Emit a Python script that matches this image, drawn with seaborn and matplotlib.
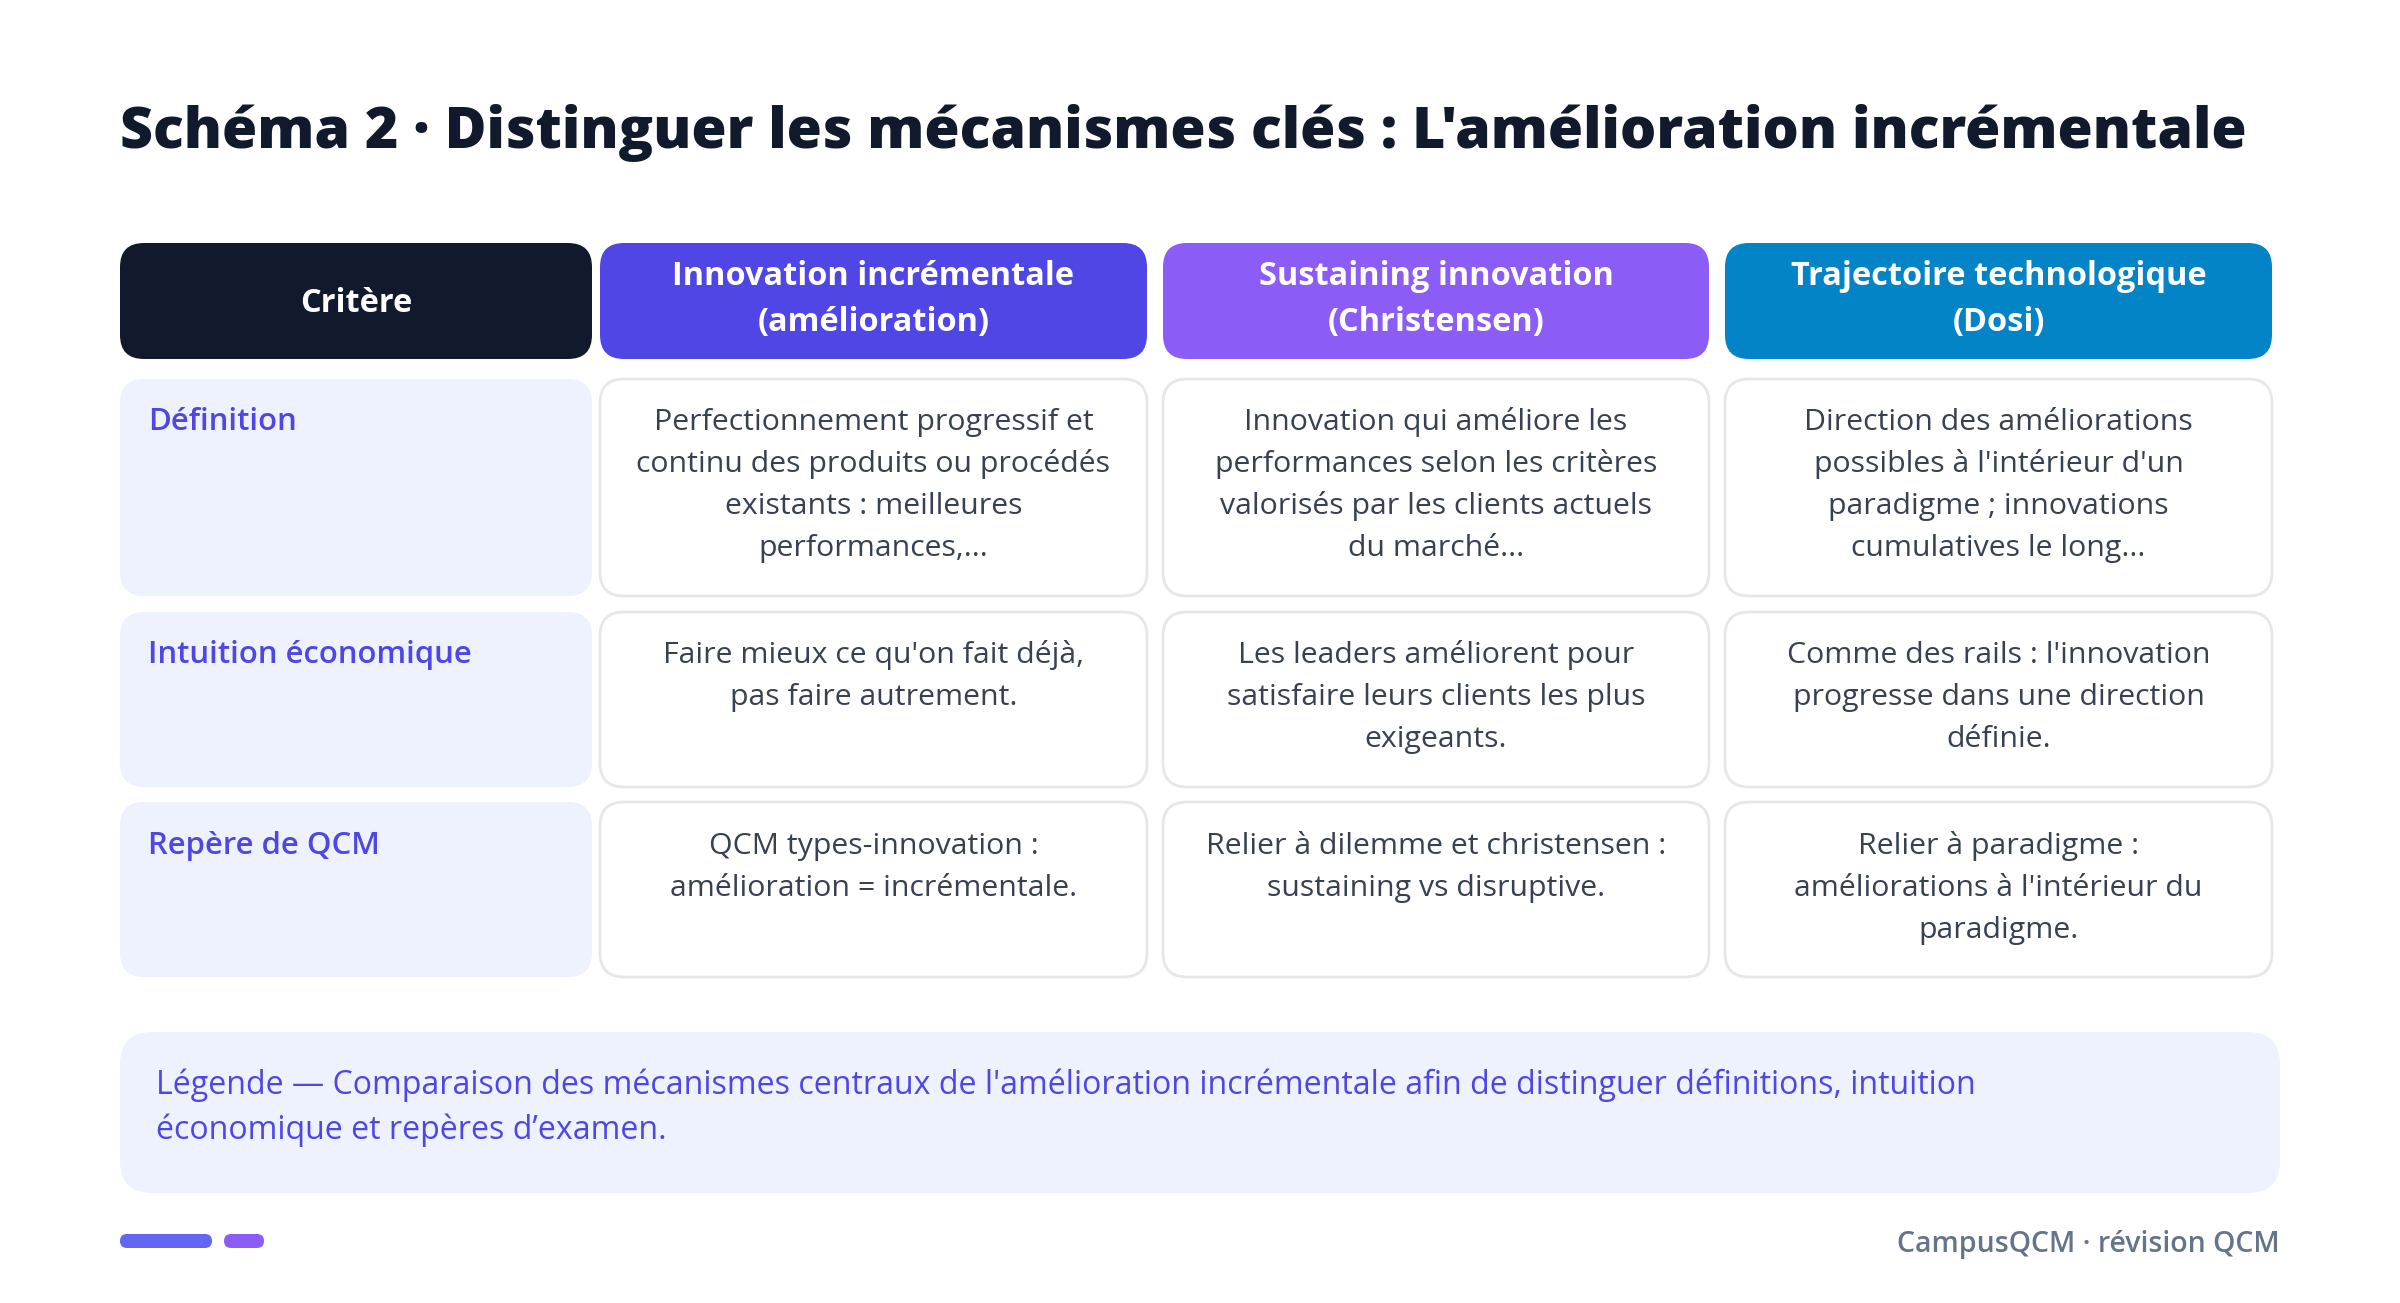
import seaborn as sns
import matplotlib.pyplot as plt
from matplotlib.patches import FancyBboxPatch

TITLE = "Schéma 2 · Distinguer les mécanismes clés : L'amélioration incrémentale"
HEADERS = ["Critère", "Innovation incrémentale\n(amélioration)",
           "Sustaining innovation\n(Christensen)", "Trajectoire technologique\n(Dosi)"]
ROW_LABELS = ["Définition", "Intuition économique", "Repère de QCM"]
COL_INCREMENTALE = [
    "Perfectionnement progressif et\ncontinu des produits ou procédés\nexistants : meilleures\nperformances,...",
    "Faire mieux ce qu'on fait déjà,\npas faire autrement.",
    "QCM types-innovation :\namélioration = incrémentale.",
]
COL_SUSTAINING = [
    "Innovation qui améliore les\nperformances selon les critères\nvalorisés par les clients actuels\ndu marché...",
    "Les leaders améliorent pour\nsatisfaire leurs clients les plus\nexigeants.",
    "Relier à dilemme et christensen :\nsustaining vs disruptive.",
]
COL_TRAJECTOIRE = [
    "Direction des améliorations\npossibles à l'intérieur d'un\nparadigme ; innovations\ncumulatives le long...",
    "Comme des rails : l'innovation\nprogresse dans une direction\ndéfinie.",
    "Relier à paradigme :\naméliorations à l'intérieur du\nparadigme.",
]
LEGEND_LINES = ["Légende — Comparaison des mécanismes centraux de l'amélioration incrémentale afin de distinguer définitions, intuition",
                "économique et repères d’examen."]
FOOTER = "CampusQCM · révision QCM"

# layout, in pixels of the slide
COL_X = [(120, 592), (600, 1147), (1163, 1709), (1725, 2272)]
ROW_Y = [(379, 596), (612, 787), (802, 977)]
ROW_BASE = [430, 663, 854]
HEAD_Y = (243, 359)
INK = "#111a2c"
HEAD_COLORS = sns.color_palette([INK, "#4f46e5", "#8b5cf6", "#0284c7"])

sns.set_theme(style="white")
plt.rcParams['font.family'] = ['Open Sans', 'DejaVu Sans']


def box(ax, x0, y0, x1, y1, color, radius, edge="none", lw=0):
    ax.add_patch(FancyBboxPatch((x0, y0), x1 - x0, y1 - y0,
                                boxstyle="round,pad=0,rounding_size=%d" % radius,
                                facecolor=color, edgecolor=edge, linewidth=lw))


def lines(ax, x, y, text, step, **kw):
    for i, line in enumerate(text.split("\n")):
        ax.text(x, y + i * step, line, **kw)


fig, ax = plt.subplots(figsize=(24, 13.03), dpi=100)
fig.subplots_adjust(0, 0, 1, 1)
ax.set_xlim(0, 2400)
ax.set_ylim(1303, 0)
ax.set_axis_off()
sns.despine(ax=ax, left=True, bottom=True)

ax.text(120, 148, TITLE, fontsize=41.1, fontweight=800, color=INK, va="baseline")

# header row
for (x0, x1), head, color in zip(COL_X, HEADERS, HEAD_COLORS):
    box(ax, x0, HEAD_Y[0], x1, HEAD_Y[1], color, 24)
    first = 312 if "\n" not in head else 285
    lines(ax, (x0 + x1) / 2, first, head, 46, fontsize=23.4, fontweight=700,
          color="white", ha="center", va="baseline")

# body rows
columns = [COL_INCREMENTALE, COL_SUSTAINING, COL_TRAJECTOIRE]
for r, (y0, y1) in enumerate(ROW_Y):
    x0, x1 = COL_X[0]
    box(ax, x0, y0, x1, y1, "#eef2ff", 24)
    ax.text(148, ROW_BASE[r], ROW_LABELS[r], fontsize=22.4, fontweight=600,
            color="#4f46e5", va="baseline")
    for c, col in enumerate(columns):
        x0, x1 = COL_X[c + 1]
        box(ax, x0, y0, x1, y1, "white", 24, edge="#e5e7eb", lw=2.0)
        lines(ax, (x0 + x1) / 2, ROW_BASE[r], col[r], 42, fontsize=21.75, color="#374151",
              ha="center", va="baseline")

# legend band
box(ax, 120, 1032, 2280, 1193, "#eef2ff", 32)
lines(ax, 156, 1094, "\n".join(LEGEND_LINES), 45, fontsize=23.1, color="#4f46e5", va="baseline")

# footer
box(ax, 120, 1234, 212, 1248, "#6366f1", 7)
box(ax, 224, 1234, 264, 1248, "#8b5cf6", 7)
ax.text(2280, 1252, FOOTER, fontsize=20.5, fontweight=600, color="#64748b",
        ha="right", va="baseline")

fig.savefig("out.png", dpi=100)
